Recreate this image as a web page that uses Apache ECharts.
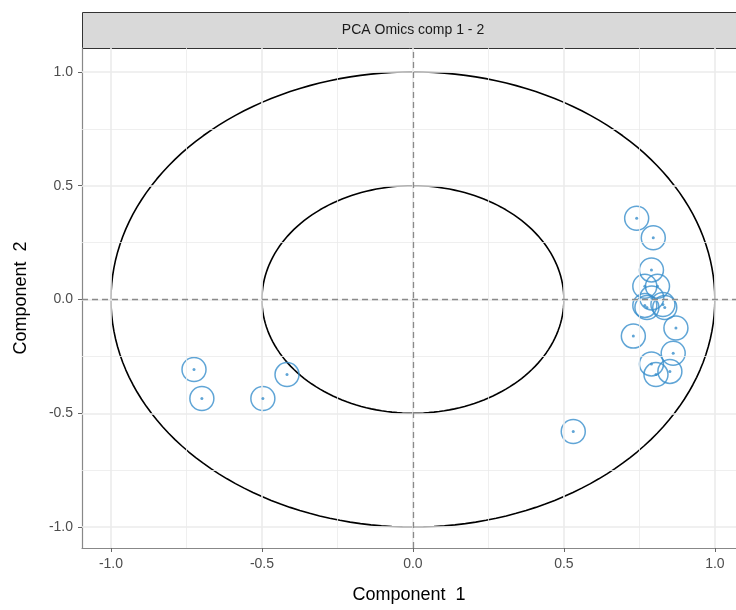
<!DOCTYPE html>
<html><head><meta charset="utf-8">
<script src="https://cdn.jsdelivr.net/npm/echarts@6/dist/echarts.min.js"></script>
<style>html,body{margin:0;padding:0;background:#fff}#c{width:736px;height:610px}</style>
</head><body><div id="c"></div>
<script>
const title = "PCA Omics comp 1 - 2";
const xName = "Component  1";
const yName = "Component  2";
const tickValues = [-1, -0.5, 0, 0.5, 1];
const minorValues = [-0.75, -0.25, 0.25, 0.75];
const compX = [-0.725, -0.699, -0.497, -0.417, 0.531,
  0.741, 0.796, 0.790, 0.768, 0.810, 0.791, 0.768, 0.775, 0.828, 0.834,
  0.730, 0.871, 0.862, 0.851, 0.790, 0.805];
const compY = [-0.308, -0.435, -0.435, -0.330, -0.580,
  0.357, 0.271, 0.130, 0.058, 0.058, 0.007, -0.026, -0.035, -0.022, -0.035,
  -0.161, -0.125, -0.236, -0.316, -0.283, -0.330];
const radii = [1, 0.5];

const pts = compX.map((x, i) => [x, compY[i]]);
function circle(r) {
  const a = [];
  for (let k = 0; k <= 360; k += 2) {
    const t = k * Math.PI / 180;
    a.push([r * Math.cos(t), r * Math.sin(t)]);
  }
  return a;
}
const gridLine = (v, axis, w) => ({ [axis]: v, lineStyle: { color: '#ebebeb', width: w, type: 'solid' } });
const font = '"Liberation Sans", Arial, sans-serif';

const chart = echarts.init(document.getElementById('c'));
chart.setOption({
  animation: false,
  grid: { left: 82, right: 0, top: 48, bottom: 62 },
  graphic: [
    { type: 'rect', left: 82, top: 12, shape: { width: 656, height: 36 },
      style: { fill: '#d9d9d9', stroke: '#333', lineWidth: 1 } },
    { type: 'text', x: 413, y: 30, style: { text: title, font: '14px ' + font, fill: '#1a1a1a', align: 'center', verticalAlign: 'middle' } }
  ],
  xAxis: {
    type: 'value', min: -1.096, max: 1.07,
    name: xName, nameLocation: 'middle', nameGap: 38,
    nameTextStyle: { fontSize: 18, color: '#000', fontFamily: font },
    axisLine: { onZero: false, lineStyle: { color: '#888', width: 1.2 } },
    axisTick: { show: true, length: 4, customValues: tickValues, lineStyle: { color: '#666' } },
    axisLabel: { customValues: tickValues, margin: 9, fontSize: 14, color: '#4d4d4d', fontFamily: font,
      formatter: v => v.toFixed(1) },
    splitLine: { show: false }
  },
  yAxis: {
    type: 'value', min: -1.092, max: 1.105,
    name: yName, nameLocation: 'middle', nameGap: 52,
    nameTextStyle: { fontSize: 18, color: '#000', fontFamily: font },
    axisLine: { show: true, onZero: false, lineStyle: { color: '#888', width: 1.2 } },
    axisTick: { show: true, length: 4, customValues: tickValues, lineStyle: { color: '#666' } },
    axisLabel: { customValues: tickValues, margin: 9, fontSize: 14, color: '#4d4d4d', fontFamily: font,
      formatter: v => v.toFixed(1) },
    splitLine: { show: false }
  },
  series: [
    { type: 'line', data: [], silent: true, z: 1,
      markLine: { silent: true, symbol: 'none', label: { show: false }, animation: false,
        lineStyle: { type: 'solid', color: '#ebebeb' },
        data: [
          ...minorValues.map(v => gridLine(v, 'xAxis', 0.8)),
          ...minorValues.map(v => gridLine(v, 'yAxis', 0.8)),
          ...tickValues.map(v => gridLine(v, 'xAxis', 1.6)),
          ...tickValues.map(v => gridLine(v, 'yAxis', 1.6))
        ] } },
    { type: 'line', data: [], silent: true, z: 2,
      markLine: { silent: true, symbol: 'none', label: { show: false }, animation: false,
        lineStyle: { color: '#8a8a8a', width: 1.3, type: [6, 4] },
        data: [{ xAxis: 0 }, { yAxis: 0 }] } },
    ...radii.map(r => ({ type: 'line', data: circle(r), showSymbol: false, silent: true, z: 3,
      lineStyle: { color: '#000', width: 1.6 } })),
    { type: 'scatter', data: pts, symbol: 'circle', symbolSize: 24, z: 4,
      itemStyle: { color: 'rgba(0,0,0,0)', borderColor: '#388ECC', borderWidth: 1.5 } },
    { type: 'scatter', data: pts, symbol: 'circle', symbolSize: 3, z: 5,
      itemStyle: { color: '#388ECC' } }
  ]
});
</script></body></html>
